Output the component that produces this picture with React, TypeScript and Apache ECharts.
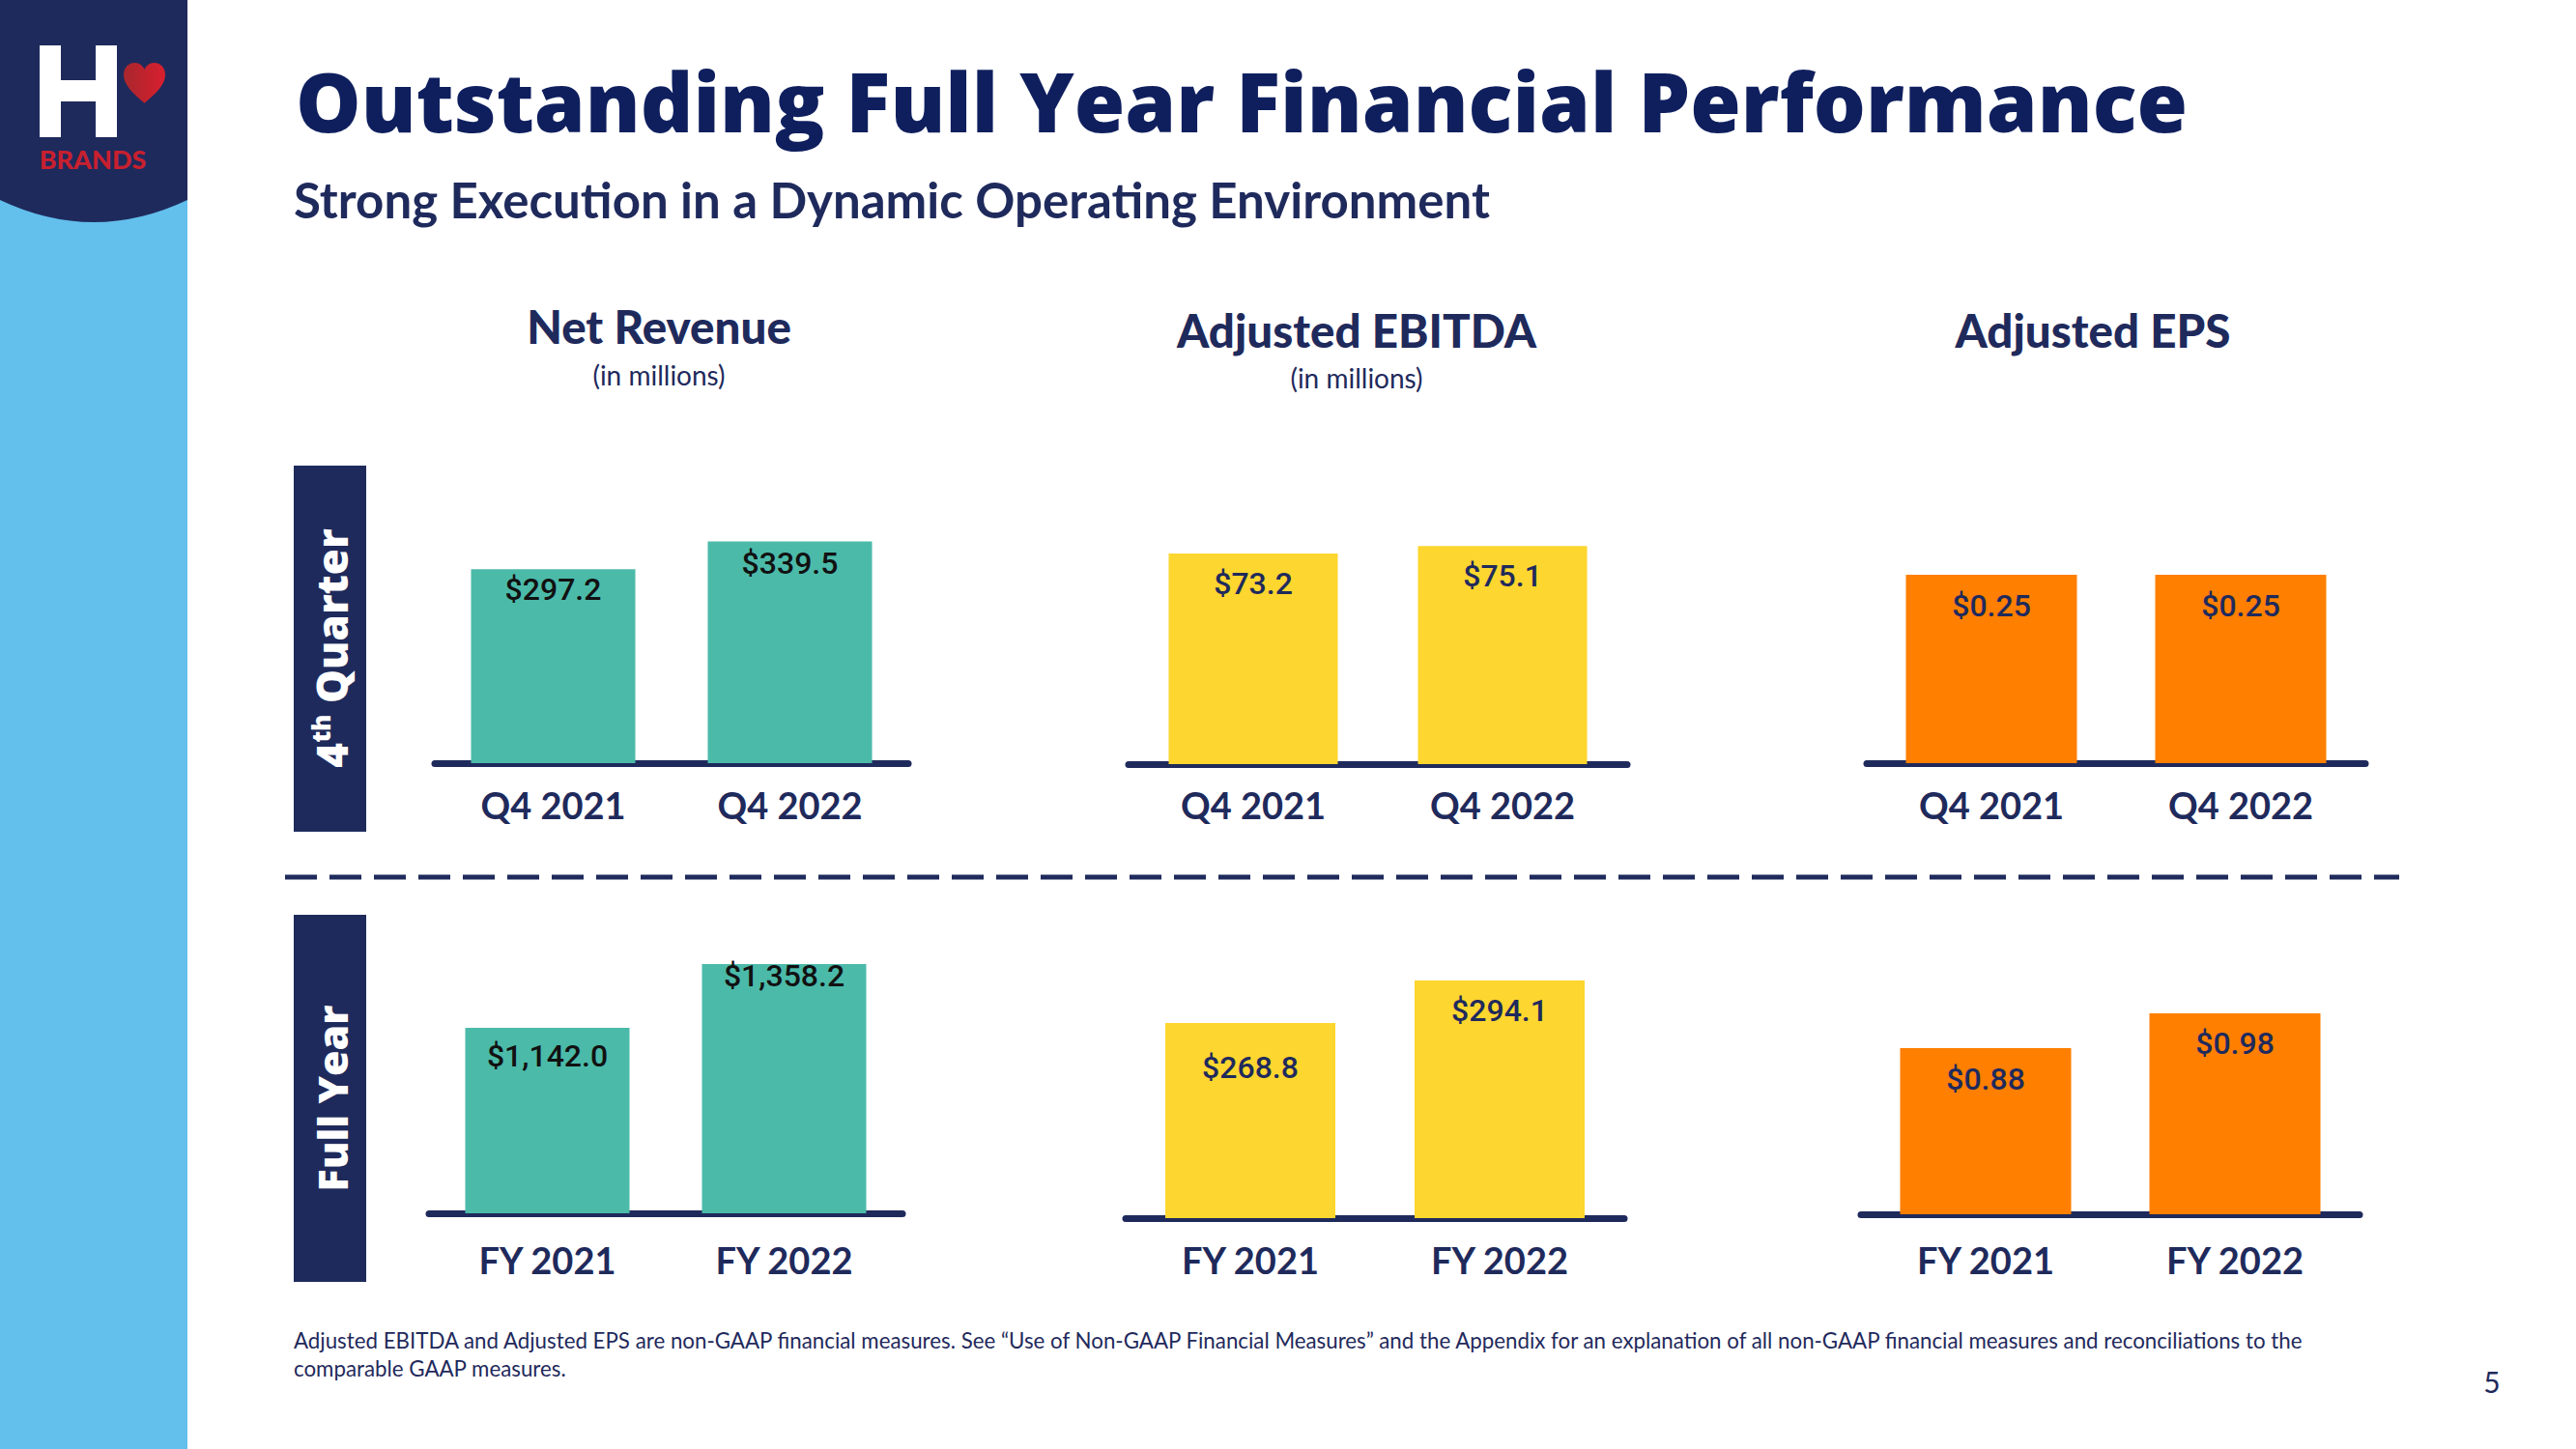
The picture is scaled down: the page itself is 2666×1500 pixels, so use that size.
import React, { useEffect, useRef } from "react";
import * as echarts from "echarts";

// ---------- data ----------
const q4Categories = ["Q4 2021", "Q4 2022"];
const fyCategories = ["FY 2021", "FY 2022"];
const q4NetRevenue = [297.2, 339.5];
const fyNetRevenue = [1142.0, 1358.2];
const q4AdjEbitda = [73.2, 75.1];
const fyAdjEbitda = [268.8, 294.1];
const q4AdjEps = [0.25, 0.25];
const fyAdjEps = [0.88, 0.98];

const titleText = "Outstanding Full Year Financial Performance";
const subtitleText = "Strong Execution in a Dynamic Operating Environment";
const metricTitles = ["Net Revenue", "Adjusted EBITDA", "Adjusted EPS"];
const metricUnits = ["(in millions)", "(in millions)", ""];
const footnoteLines = [
  "Adjusted EBITDA and Adjusted EPS are non-GAAP financial measures. See \u201cUse of Non-GAAP Financial Measures\u201d and the Appendix for an explanation of all non-GAAP financial measures and reconciliations to the",
  "comparable GAAP measures.",
];
const pageNumber = "5";

// ---------- styles ----------
const NAVY = "#1f2a5c";
const TITLE_BLUE = "#0f1f5e";
const LIGHT_BLUE = "#63bfec";
const TEAL = "#4bbaa9";
const YELLOW = "#fdd62f";
const ORANGE = "#ff7f00";
const RED = "#c8202f";

echarts.graphic.registerShape(
  "banner",
  echarts.graphic.extendPath("M0 0 H194 V207 Q97 253 0 207 Z", {})
);
echarts.graphic.registerShape(
  "heart",
  echarts.graphic.extendPath(
    "M50 95 C22 72 0 52 0 28 C0 11 12 0 27 0 C38 0 46 7 50 16 C54 7 62 0 73 0 C88 0 100 11 100 28 C100 52 78 72 50 95 Z",
    {}
  )
);

const fmt = (digits: number) => (p: any) =>
  "$" +
  Number(p.value).toLocaleString("en-US", {
    minimumFractionDigits: digits,
    maximumFractionDigits: digits,
  });

const GRID_H = 450;

const panels = [
  { cats: q4Categories, values: q4NetRevenue, color: TEAL, left: 450, width: 490, bottom: 790, min: 0, max: 666, barWidth: 170, labelColor: "#111111", digits: 1, offs: [21, 22], catY: 833 },
  { cats: q4Categories, values: q4AdjEbitda, color: YELLOW, left: 1168, width: 516, bottom: 791, min: 20, max: 129.8, barWidth: 175, labelColor: NAVY, digits: 1, offs: [31, 31], catY: 833 },
  { cats: q4Categories, values: q4AdjEps, color: ORANGE, left: 1932, width: 516, bottom: 790, min: 0, max: 0.577, barWidth: 177, labelColor: NAVY, digits: 2, offs: [32, 32], catY: 833 },
  { cats: fyCategories, values: fyNetRevenue, color: TEAL, left: 444, width: 490, bottom: 1256, min: 513, max: 1987, barWidth: 170, labelColor: "#111111", digits: 1, offs: [29, 12], catY: 1304 },
  { cats: fyCategories, values: fyAdjEbitda, color: YELLOW, left: 1165, width: 516, bottom: 1261, min: 152.7, max: 411.3, barWidth: 176, labelColor: NAVY, digits: 1, offs: [46, 31], catY: 1304 },
  { cats: fyCategories, values: fyAdjEps, color: ORANGE, left: 1926, width: 516, bottom: 1257, min: 0.402, max: 1.653, barWidth: 177, labelColor: NAVY, digits: 2, offs: [32, 31], catY: 1304 },
];

const headingX = [682, 1404, 2166];

export default function App() {
  const ref = useRef<HTMLDivElement>(null);

  useEffect(() => {
    if (!ref.current) return;
    const chart = echarts.init(ref.current, undefined, { renderer: "svg" });

    const grid = panels.map((p) => ({
      left: p.left,
      width: p.width,
      top: p.bottom - GRID_H,
      height: GRID_H,
      containLabel: false,
    }));
    const xAxis = panels.map((p, i) => ({
      type: "category",
      gridIndex: i,
      data: p.cats,
      axisLine: { show: true, onZero: false, lineStyle: { color: NAVY, width: 7 } },
      axisTick: { show: false },
      axisLabel: {
        color: NAVY,
        fontSize: 38,
        fontWeight: "bold",
        fontFamily: "Lato",
        lineHeight: 38,
        margin: p.catY - p.bottom - 19,
      },
    }));
    const yAxis = panels.map((p, i) => ({
      type: "value",
      gridIndex: i,
      min: p.min,
      max: p.max,
      startValue: p.min,
      show: false,
      splitLine: { show: false },
    }));
    const series = panels.map((p, i) => ({
      type: "bar",
      xAxisIndex: i,
      yAxisIndex: i,
      barWidth: p.barWidth,
      itemStyle: { color: p.color },
      label: {
        show: true,
        position: "insideTop",
        distance: 0,
        formatter: fmt(p.digits),
        color: p.labelColor,
        fontSize: 32,
        lineHeight: 32,
        fontWeight: 500,
        fontFamily: "Roboto",
      },
      data: p.values.map((v, j) => ({ value: v, label: { offset: [0, p.offs[j] - 16] } })),
    }));

    const graphics: any[] = [
      // sidebar
      { type: "rect", shape: { x: 0, y: 0, width: 194, height: 1500 }, style: { fill: LIGHT_BLUE } },
      { type: "banner", x: 0, y: 0, style: { fill: NAVY } },
      // H logo
      { type: "rect", shape: { x: 41, y: 47, width: 22, height: 95 }, style: { fill: "#ffffff" } },
      { type: "rect", shape: { x: 99, y: 47, width: 22, height: 95 }, style: { fill: "#ffffff" } },
      { type: "rect", shape: { x: 62, y: 83, width: 38, height: 22 }, style: { fill: "#ffffff" } },
      {
        type: "heart",
        x: 128,
        y: 65,
        scaleX: 0.43,
        scaleY: 0.44,
        style: {
          fill: new echarts.graphic.LinearGradient(0, 0, 1, 0, [
            { offset: 0, color: "#a8272d" },
            { offset: 1, color: "#d81f2e" },
          ]),
        },
      },
      {
        type: "text",
        x: 96,
        y: 164,
        style: { text: "BRANDS", fill: RED, fontSize: 27, fontWeight: 900, fontFamily: "Lato", align: "center", verticalAlign: "middle" },
      },
      // titles
      {
        type: "text",
        x: 306,
        y: 104,
        style: { text: titleText, fill: TITLE_BLUE, fontSize: 85, fontWeight: 800, fontFamily: "Open Sans", align: "left", verticalAlign: "middle" },
      },
      {
        type: "text",
        x: 304,
        y: 206,
        style: { text: subtitleText, fill: NAVY, fontSize: 51, fontWeight: "bold", fontFamily: "Lato", align: "left", verticalAlign: "middle" },
      },
      // dashed separator
      {
        type: "line",
        shape: { x1: 295, y1: 908, x2: 2483, y2: 908 },
        style: { stroke: NAVY, lineWidth: 5, lineDash: [33, 13] },
      },
      // row label boxes
      { type: "rect", shape: { x: 304, y: 482, width: 75, height: 379 }, style: { fill: NAVY } },
      { type: "rect", shape: { x: 304, y: 947, width: 75, height: 380 }, style: { fill: NAVY } },
      {
        type: "text",
        x: 343,
        y: 671,
        rotation: Math.PI / 2,
        style: {
          text: "{a|4}{s|th}{a| Quarter}",
          align: "center",
          verticalAlign: "middle",
          rich: {
            a: { fill: "#ffffff", fontSize: 44, fontWeight: 800, fontFamily: "Open Sans", lineHeight: 48 },
            s: { fill: "#ffffff", fontSize: 26, fontWeight: 800, fontFamily: "Open Sans", lineHeight: 30, verticalAlign: "top" },
          },
        },
      },
      {
        type: "text",
        x: 343,
        y: 1137,
        rotation: Math.PI / 2,
        style: { text: "Full Year", fill: "#ffffff", fontSize: 43, fontWeight: 800, fontFamily: "Open Sans", align: "center", verticalAlign: "middle" },
      },
      // footnote & page number
      ...footnoteLines.map((t, i) => ({
        type: "text",
        x: 304,
        y: 1387 + i * 29,
        style: { text: t, fill: NAVY, fontSize: 22.3, fontFamily: "Lato", align: "left", verticalAlign: "middle" },
      })),
      {
        type: "text",
        x: 2579,
        y: 1430,
        style: { text: pageNumber, fill: NAVY, fontSize: 30, fontFamily: "Lato", align: "center", verticalAlign: "middle" },
      },
    ];

    metricTitles.forEach((t, i) => {
      graphics.push({
        type: "text",
        x: headingX[i],
        y: 339 + (i === 0 ? -2 : 2),
        style: { text: t, fill: NAVY, fontSize: 47.5, fontWeight: 900, fontFamily: "Lato", align: "center", verticalAlign: "middle" },
      });
      if (metricUnits[i]) {
        graphics.push({
          type: "text",
          x: headingX[i],
          y: i === 0 ? 388 : 391,
          style: { text: metricUnits[i], fill: NAVY, fontSize: 28, fontFamily: "Lato", align: "center", verticalAlign: "middle" },
        });
      }
    });

    chart.setOption({
      animation: false,
      backgroundColor: "#ffffff",
      grid,
      xAxis,
      yAxis,
      series,
      graphic: { elements: graphics },
    });

    return () => chart.dispose();
  }, []);

  return (
    <div
      ref={ref}
      style={{ position: "absolute", left: 0, top: 0, width: 2666, height: 1500 }}
    />
  );
}
